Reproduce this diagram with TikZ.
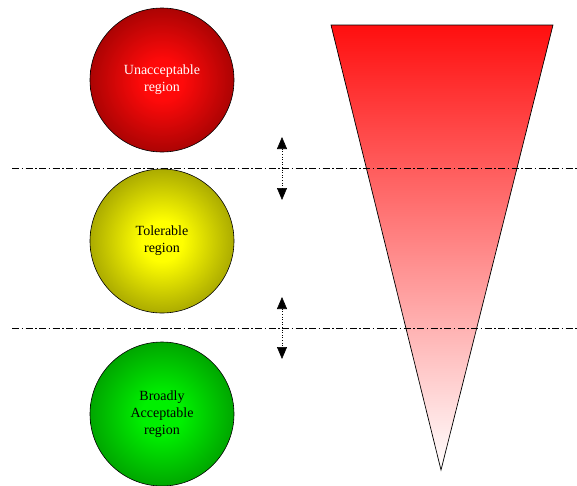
\documentclass[tikz,border=0pt]{standalone}
\usepackage{fontspec}
\setmainfont{Liberation Serif}
\usetikzlibrary{arrows.meta}
\definecolor{rcen}{RGB}{255,10,10}
\definecolor{redge}{RGB}{130,0,0}
\definecolor{ycen}{RGB}{255,255,0}
\definecolor{yedge}{RGB}{130,130,0}
\definecolor{gcen}{RGB}{0,240,0}
\definecolor{gedge}{RGB}{0,130,0}
\definecolor{tritop}{RGB}{255,15,15}
\pgfdeclareradialshading{ballred}{\pgfpoint{0bp}{0bp}}{color(0bp)=(rcen); color(7bp)=(rcen); color(34bp)=(redge); color(50bp)=(redge)}
\pgfdeclareradialshading{ballyellow}{\pgfpoint{0bp}{0bp}}{color(0bp)=(ycen); color(7bp)=(ycen); color(34bp)=(yedge); color(50bp)=(yedge)}
\pgfdeclareradialshading{ballgreen}{\pgfpoint{0bp}{0bp}}{color(0bp)=(gcen); color(7bp)=(gcen); color(34bp)=(gedge); color(50bp)=(gedge)}
\tikzset{
  ball/.style={circle, draw=black, line width=0.6pt, minimum size=144pt, inner sep=0pt,
    align=center, font=\fontsize{14}{17}\selectfont},
  sepline/.style={line width=0.6pt, dash pattern=on 7pt off 2.5pt on 1.5pt off 2.5pt},
  gaparrow/.style={line width=0.6pt, dotted, {Triangle[width=10pt,length=12pt]}-{Triangle[width=10pt,length=12pt]}}
}
\begin{document}
\begin{tikzpicture}[x=1pt,y=-1pt]
\useasboundingbox (0,0) rectangle (577,485);
% triangle
\path[draw=black, line width=0.7pt, shade, top color=tritop, bottom color=white]
  (331,25) coordinate (t1) -- (553,25) coordinate (t2) -- (441,470) coordinate (t3) -- cycle;
% separator lines
\coordinate (l1a) at (12,168);
\coordinate (l1b) at (577,168);
\coordinate (l2a) at (12,328);
\coordinate (l2b) at (577,328);
\draw[sepline] (l1a) -- (l1b);
\draw[sepline] (l2a) -- (l2b);
% circles
\node[ball, shading=ballred, text=white] (red) at (162,80) {Unacceptable\\region};
\node[ball, shading=ballyellow, text=black] (yellow) at (162,241) {Tolerable\\region};
\node[ball, shading=ballgreen, text=black] (green) at (162,414) {Broadly\\Acceptable\\region};
% arrows
\coordinate (a1t) at (282,137);
\coordinate (a1b) at (282,200);
\coordinate (a2t) at (282,297);
\coordinate (a2b) at (282,359);
\draw[gaparrow] (a1t) -- (a1b);
\draw[gaparrow] (a2t) -- (a2b);
\end{tikzpicture}
\end{document}
